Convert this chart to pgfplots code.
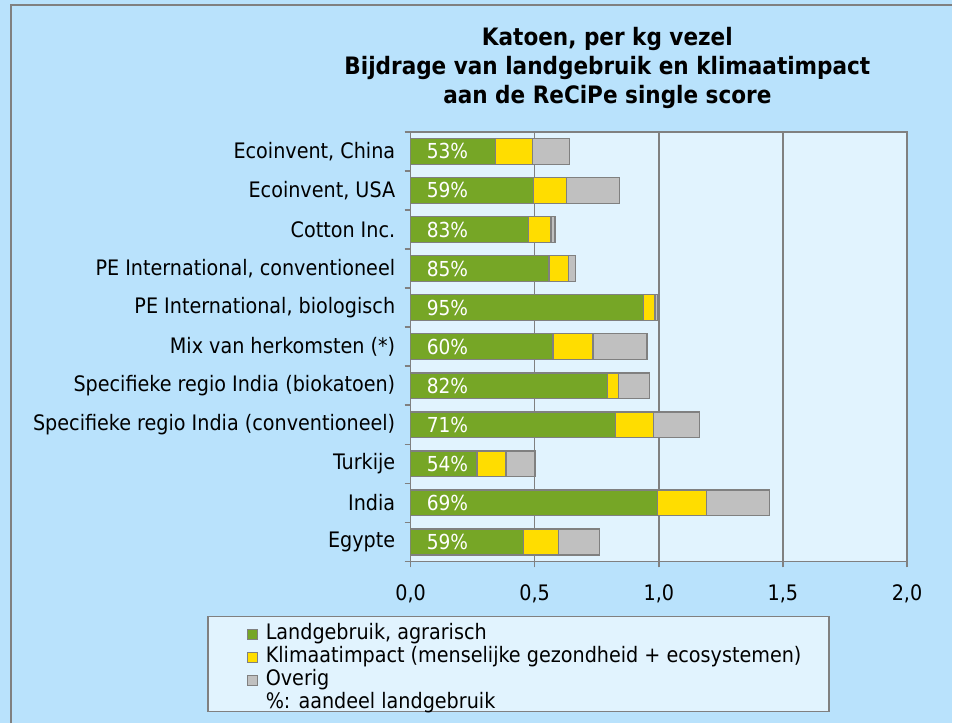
\documentclass[border=0pt]{standalone}
\usepackage{pgfplots}
\usepackage{pgfplotstable}
\pgfplotsset{compat=1.18}
\usepackage{fontspec}
\setmainfont{DejaVu Sans Condensed}
\definecolor{bgblue}{RGB}{185,226,252}
\definecolor{plotfill}{RGB}{225,243,254}
\definecolor{edgegray}{RGB}{128,128,128}
\definecolor{cgreen}{RGB}{118,166,38}
\definecolor{cyellow}{RGB}{255,221,0}
\definecolor{cgray}{RGB}{192,192,192}
\tikzset{pct/.style={anchor=west, inner sep=0pt, text=white, font=\fontsize{15.5}{17}\selectfont, xshift=12pt}}

\pgfplotstableread{
idx land klimaat overig
0 0.342 0.150 0.148
1 0.495 0.134 0.212
2 0.476 0.090 0.016
3 0.557 0.080 0.027
4 0.938 0.047 0.010
5 0.573 0.161 0.218
6 0.794 0.043 0.125
7 0.825 0.153 0.185
8 0.267 0.118 0.117
9 0.995 0.198 0.253
10 0.455 0.141 0.165
}\datatable

\begin{document}
\begin{tikzpicture}[x=0.75pt,y=0.75pt]
\fill[bgblue] (0,0) rectangle (953,724);
\draw[edgegray, line width=1.5pt] (11,0) -- (11,719) -- (953,719);
\useasboundingbox (0,0) rectangle (953,724);
% legend box
\draw[edgegray, fill=plotfill, line width=1.1pt] (208,12) rectangle (830,107);
% title
\node[align=center, font=\fontsize{18}{21.75}\selectfont\bfseries] at (608,656)
  {Katoen, per kg vezel\\Bijdrage van landgebruik en klimaatimpact\\aan de ReCiPe single score};
\begin{axis}[
  at={(308.25pt,121.5pt)}, anchor=south west,
  scale only axis, width=372.75pt, height=322.5pt,
  xbar stacked, bar width=0.66,
  y dir=reverse,
  xmin=0, xmax=2, ymin=-0.5, ymax=10.5,
  axis background/.style={fill=plotfill},
  axis line style={edgegray, line width=1.1pt},
  xmajorgrids, grid style={edgegray, line width=1.1pt},
  xtick={0,0.5,1,1.5,2},
  minor xtick={0,0.5,1,1.5,2},
  xminorticks=true, yminorticks=true,
  /pgf/number format/.cd, use comma, fixed, fixed zerofill, precision=1, assume math mode=true,
  /pgfplots/.cd,
  xtick pos=bottom, ytick pos=left, tick align=outside,
  major tick length=0pt, minor tick length=4.5pt,
  tick style={edgegray, line width=1.1pt},
  minor tick style={edgegray, line width=1.1pt},
  ytick={0,1,2,3,4,5,6,7,8,9,10},
  minor ytick={-0.5,0.5,1.5,2.5,3.5,4.5,5.5,6.5,7.5,8.5,9.5,10.5},
  yticklabels={Ecoinvent{,} China, Ecoinvent{,} USA, Cotton Inc., PE International{,} conventioneel, PE International{,} biologisch, Mix van herkomsten (*), Specifieke regio India (biokatoen), Specifieke regio India (conventioneel), Turkije, India, Egypte},
  tick label style={font=\fontsize{16}{18}\selectfont},
  yticklabel style={xshift=-8pt},
  xticklabel style={yshift=-14pt},
  every axis plot/.append style={draw=edgegray, line width=1.1pt},
  legend image code/.code={\draw[#1, line width=0.6pt] (0pt,-3.75pt) rectangle (7.5pt,3.75pt);},
  legend style={draw=none, fill=none, at={(axis description cs:-0.33,-0.143)}, anchor=north west,
    font=\fontsize{16}{17.25}\selectfont, row sep=0.25pt, column sep=5pt, inner sep=0pt,
    nodes={inner sep=1pt, text height=11.5pt, text depth=3.5pt}},
  legend cell align=left,
  after end axis/.code={
    \node[pct] at (axis cs:0,0) {53\%};
    \node[pct] at (axis cs:0,1) {59\%};
    \node[pct] at (axis cs:0,2) {83\%};
    \node[pct] at (axis cs:0,3) {85\%};
    \node[pct] at (axis cs:0,4) {95\%};
    \node[pct] at (axis cs:0,5) {60\%};
    \node[pct] at (axis cs:0,6) {82\%};
    \node[pct] at (axis cs:0,7) {71\%};
    \node[pct] at (axis cs:0,8) {54\%};
    \node[pct] at (axis cs:0,9) {69\%};
    \node[pct] at (axis cs:0,10) {59\%};
  },
]
\addplot[fill=cgreen] table[x=land, y=idx] \datatable;
\addplot[fill=cyellow] table[x=klimaat, y=idx] \datatable;
\addplot[fill=cgray] table[x=overig, y=idx] \datatable;
\addlegendentry{Landgebruik, agrarisch}
\addlegendentry{Klimaatimpact (menselijke gezondheid + ecosystemen)}
\addlegendentry{Overig}
\addlegendimage{empty legend}
\addlegendentry{\%: aandeel landgebruik}
\end{axis}
\end{tikzpicture}
\end{document}
